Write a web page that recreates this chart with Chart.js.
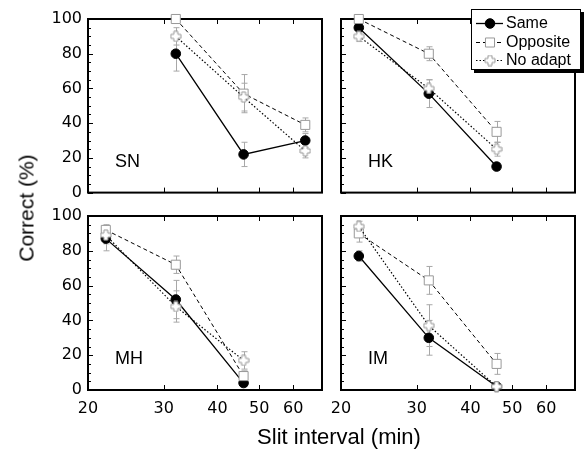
<!DOCTYPE html>
<html><head><meta charset="utf-8">
<script src="https://cdn.jsdelivr.net/npm/chart.js@4"></script>
<style>
html,body{margin:0;padding:0;background:#fff;}
body{width:584px;height:452px;position:relative;overflow:hidden;font-family:"Liberation Sans",Arial,sans-serif;}
canvas{position:absolute;}
.ttl{position:absolute;color:#000;white-space:nowrap;line-height:1;}
</style></head><body>
<canvas id="cSN" width="335" height="200" style="left:0;top:0"></canvas>
<canvas id="cHK" width="254" height="200" style="left:330px;top:0"></canvas>
<canvas id="cMH" width="335" height="252" style="left:0;top:200px"></canvas>
<canvas id="cIM" width="254" height="252" style="left:330px;top:200px"></canvas>
<div class="ttl" style="left:26px;top:208px;font-size:21px;transform:translate(-50%,-50%) rotate(-90deg)">Correct (%)</div>
<div class="ttl" style="left:339px;top:437px;font-size:22px;transform:translate(-50%,-50%)">Slit interval (min)</div>
<script>
// ---- data ----
const xTickValues = [20, 30, 40, 50, 60];
const yTickValues = [0, 20, 40, 60, 80, 100];
const seriesNames = ['Same', 'Opposite', 'No adapt'];

const snX = [32, 46, 64];
const snSame = [80, 22, 30];
const snSameErr = [10, 7, 4];
const snOpposite = [100, 57, 39];
const snOppositeErr = [0, 11, 4];
const snNoAdapt = [90, 55, 24];
const snNoAdaptErr = [5, 8, 4];

const hkX = [22, 32, 46];
const hkSame = [95, 57, 15];
const hkSameErr = [3, 8, 2];
const hkOpposite = [100, 80, 35];
const hkOppositeErr = [0, 4, 6];
const hkNoAdapt = [90, 60, 25];
const hkNoAdaptErr = [3, 5, 4];

const mhX = [22, 32, 46];
const mhSame = [87, 52, 4];
const mhSameErr = [7, 11, 2];
const mhOpposite = [92, 72, 8];
const mhOppositeErr = [3, 5, 3];
const mhNoAdapt = [89, 48, 17];
const mhNoAdaptErr = [5, 9, 5];

const imX = [22, 32, 46];
const imSame = [77, 30, 2];
const imSameErr = [3, 10, 0];
const imOpposite = [90, 63, 15];
const imOppositeErr = [5, 8, 6];
const imNoAdapt = [94, 37, 2];
const imNoAdaptErr = [3, 12, 0];

// ---- marker for "No adapt": hollow plus ----
function makeCross() {
  const c = document.createElement('canvas');
  c.width = 12; c.height = 12;
  const g = c.getContext('2d');
  const cx = 6, cy = 6, a = 2, b = 5;
  g.beginPath();
  const pts = [[-a,-b],[a,-b],[a,-a],[b,-a],[b,a],[a,a],[a,b],[-a,b],[-a,a],[-b,a],[-b,-a],[-a,-a]];
  pts.forEach((p,i)=>{ const X = cx + p[0], Y = cy + p[1]; i ? g.lineTo(X,Y) : g.moveTo(X,Y); });
  g.closePath();
  g.fillStyle = '#fff'; g.fill();
  g.strokeStyle = '#999'; g.lineWidth = 1; g.stroke();
  return c;
}
const crossMarker = makeCross();

const styles = {
  same: {borderColor:'#000', borderWidth:1.3, borderDash:[], pointStyle:'circle', pointRadius:4.8, pointBackgroundColor:'#000', pointBorderColor:'#000', pointBorderWidth:1},
  opp:  {borderColor:'#000', borderWidth:1, borderDash:[4,3], pointStyle:'rect', pointRadius:6.4, pointBackgroundColor:'#fff', pointBorderColor:'#999', pointBorderWidth:1},
  no:   {borderColor:'#000', borderWidth:1.2, borderDash:[1.5,2], pointStyle:crossMarker, pointRadius:6, pointBackgroundColor:'#fff', pointBorderColor:'#999', pointBorderWidth:1}
};

const decor = {
  id: 'decor',
  beforeDatasetsDraw(chart) {
    const ctx = chart.ctx, xs = chart.scales.x, ys = chart.scales.y;
    const {left, right, top, bottom} = chart.chartArea;
    ctx.save();
    // error bars
    ctx.strokeStyle = '#a8a8a8'; ctx.lineWidth = 1;
    chart.data.datasets.forEach(ds => {
      ds.data.forEach((p, i) => {
        const e = ds.errors[i];
        if (!e) return;
        const px = Math.round(xs.getPixelForValue(p.x)) + 0.5;
        const y1 = ys.getPixelForValue(p.y - e), y2 = ys.getPixelForValue(p.y + e);
        ctx.beginPath();
        ctx.moveTo(px, y1); ctx.lineTo(px, y2);
        ctx.moveTo(px - 3, y1); ctx.lineTo(px + 3, y1);
        ctx.moveTo(px - 3, y2); ctx.lineTo(px + 3, y2);
        ctx.stroke();
      });
    });
    // frame
    ctx.strokeStyle = '#000'; ctx.lineWidth = 2;
    ctx.strokeRect(left, top, right - left, bottom - top);
    // ticks (inward)
    ctx.lineWidth = 1;
    ctx.beginPath();
    for (let v = 0; v <= 100; v += 5) {
      const y = Math.round(ys.getPixelForValue(v)) + 0.5;
      const len = yTickValues.includes(v) ? 5 : 3;
      ctx.moveTo(left, y); ctx.lineTo(left + len, y);
    }
    xTickValues.forEach(v => {
      const x = Math.round(xs.getPixelForValue(v)) + 0.5;
      ctx.moveTo(x, bottom); ctx.lineTo(x, bottom - 5);
      ctx.moveTo(x, top); ctx.lineTo(x, top + 5);
    });
    ctx.stroke();
    // panel label
    ctx.fillStyle = '#000';
    ctx.font = '18px "Liberation Sans", Arial, sans-serif';
    ctx.textBaseline = 'middle'; ctx.textAlign = 'left';
    ctx.fillText(chart.options.plugins.decor.label, left + 27, bottom - 31);
    ctx.restore();
  }
};

const legendBox = {
  id: 'legendBox',
  afterDraw(chart) {
    if (!chart.options.plugins.legendBox.show) return;
    const ctx = chart.ctx;
    const bx = 141, by = 9, bw = 110, bh = 61;
    ctx.save();
    ctx.fillStyle = '#000';
    ctx.fillRect(bx + 3, by + 3, bw, bh);
    ctx.fillStyle = '#fff';
    ctx.fillRect(bx, by, bw, bh);
    ctx.strokeStyle = '#000'; ctx.lineWidth = 1;
    ctx.strokeRect(bx + 0.5, by + 0.5, bw - 1, bh - 1);
    const keys = ['same', 'opp', 'no'];
    const rows = [23, 42, 60];
    keys.forEach((k, i) => {
      const s = styles[k], y = rows[i] + 0.5;
      ctx.strokeStyle = s.borderColor; ctx.lineWidth = s.borderWidth;
      ctx.setLineDash(s.borderDash);
      ctx.beginPath(); ctx.moveTo(146, y); ctx.lineTo(173, y); ctx.stroke();
      ctx.setLineDash([]);
      ctx.fillStyle = s.pointBackgroundColor; ctx.strokeStyle = s.pointBorderColor; ctx.lineWidth = 1;
      Chart.helpers.drawPoint(ctx, {pointStyle: s.pointStyle, radius: s.pointRadius, borderWidth: 1, rotation: 0}, 160, y);
      ctx.fillStyle = '#000';
      ctx.font = '16px "Liberation Sans", Arial, sans-serif';
      ctx.textBaseline = 'middle'; ctx.textAlign = 'left';
      ctx.fillText(seriesNames[i], 176, rows[i] + 1);
    });
    ctx.restore();
  }
};

function series(xs, ys, errs, key, name, order) {
  const s = styles[key];
  return Object.assign({
    label: name,
    data: xs.map((x, i) => ({x: x, y: ys[i]})),
    errors: errs,
    order: order,
    tension: 0,
    clip: false,
    fill: false
  }, s);
}

function noPad(s) { s.paddingTop = 0; s.paddingBottom = 0; s.paddingLeft = 0; s.paddingRight = 0; }

function makePanel(id, label, xs, same, sameErr, opp, oppErr, no, noErr, o) {
  return new Chart(document.getElementById(id), {
    type: 'line',
    data: {
      datasets: [
        series(xs, same, sameErr, 'same', seriesNames[0], 3),
        series(xs, opp, oppErr, 'opp', seriesNames[1], 2),
        series(xs, no, noErr, 'no', seriesNames[2], 1)
      ]
    },
    options: {
      responsive: false,
      animation: false,
      events: [],
      layout: {padding: {left: 0, right: o.padRight, top: o.padTop, bottom: 0}},
      plugins: {
        legend: {display: false},
        tooltip: {enabled: false},
        decor: {label: label},
        legendBox: {show: !!o.legend}
      },
      scales: {
        x: {
          type: 'logarithmic', min: 20, max: 70, position: 'bottom',
          grid: {display: false, drawTicks: false},
          border: {display: false},
          afterBuildTicks: s => { s.ticks = xTickValues.map(v => ({value: v})); },
          afterFit: s => { s.height = o.xHeight; noPad(s); },
          ticks: {
            display: o.showX, autoSkip: false, maxRotation: 0, padding: 9,
            color: '#000', font: {family: 'DejaVu Sans', size: 16},
            callback: v => String(v)
          }
        },
        y: {
          type: 'linear', min: 0, max: 100, position: 'left',
          grid: {display: false, drawTicks: false},
          border: {display: false},
          afterBuildTicks: s => { s.ticks = yTickValues.map(v => ({value: v})); },
          afterFit: s => { s.width = o.yWidth; noPad(s); },
          ticks: {
            display: o.showY, padding: 6,
            color: '#000', font: {family: 'DejaVu Sans', size: 16},
            callback: v => String(v)
          }
        }
      }
    },
    plugins: [decor, legendBox]
  });
}

makePanel('cSN', 'SN', snX, snSame, snSameErr, snOpposite, snOppositeErr, snNoAdapt, snNoAdaptErr,
  {padRight: 13, padTop: 19, xHeight: 7, yWidth: 88, showX: false, showY: true});
makePanel('cHK', 'HK', hkX, hkSame, hkSameErr, hkOpposite, hkOppositeErr, hkNoAdapt, hkNoAdaptErr,
  {padRight: 9, padTop: 19, xHeight: 7, yWidth: 11, showX: false, showY: false, legend: true});
makePanel('cMH', 'MH', mhX, mhSame, mhSameErr, mhOpposite, mhOppositeErr, mhNoAdapt, mhNoAdaptErr,
  {padRight: 13, padTop: 16, xHeight: 62, yWidth: 88, showX: true, showY: true});
makePanel('cIM', 'IM', imX, imSame, imSameErr, imOpposite, imOppositeErr, imNoAdapt, imNoAdaptErr,
  {padRight: 9, padTop: 16, xHeight: 62, yWidth: 11, showX: true, showY: false});
</script>
</body></html>
